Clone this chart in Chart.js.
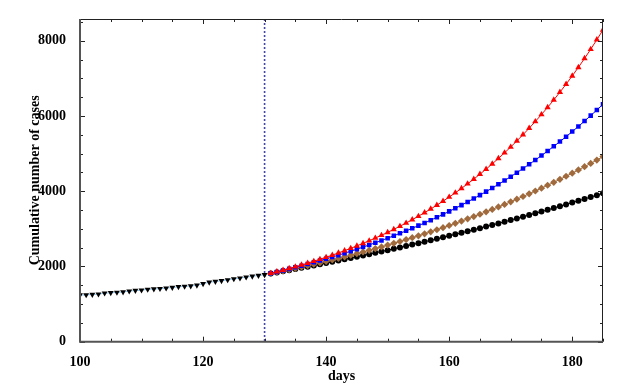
<!DOCTYPE html>
<html><head><meta charset="utf-8">
<script src="https://cdn.jsdelivr.net/npm/chart.js@4/dist/chart.umd.min.js"></script>
<style>html,body{margin:0;padding:0;background:#fff}#wrap{width:630px;height:385px;position:relative}</style>
</head><body><div id="wrap"><canvas id="c" width="630" height="385"></canvas></div>
<script>
// ---- data ----
const obsDays = [100,101,102,103,104,105,106,107,108,109,110,111,112,113,114,115,116,117,118,119,120,121,122,123,124,125,126,127,128,129,130];
const observed = [1240,1245,1255,1265,1290,1300,1310,1320,1345,1360,1370,1390,1400,1410,1425,1440,1460,1470,1480,1500,1540,1580,1600,1620,1645,1670,1690,1715,1740,1760,1780];
const projDays = [131,132,133,134,135,136,137,138,139,140,141,142,143,144,145,146,147,148,149,150,151,152,153,154,155,156,157,158,159,160,161,162,163,164,165,166,167,168,169,170,171,172,173,174,175,176,177,178,179,180,181,182,183,184,185];
const projRed = [1820,1861,1903,1947,1993,2040,2089,2139,2192,2246,2302,2360,2421,2483,2548,2615,2684,2756,2830,2907,2987,3070,3155,3244,3336,3431,3529,3631,3736,3846,3959,4076,4198,4323,4454,4588,4728,4873,5022,5177,5338,5504,5677,5855,6040,6231,6429,6634,6847,7067,7295,7531,7775,8029,8291];
const projBlue = [1818,1856,1896,1936,1978,2021,2065,2110,2156,2203,2252,2302,2353,2406,2460,2516,2573,2631,2691,2753,2816,2881,2947,3015,3086,3157,3231,3307,3385,3465,3547,3631,3717,3806,3897,3990,4086,4184,4285,4388,4495,4604,4716,4831,4949,5070,5194,5321,5452,5586,5724,5866,6011,6160,6313];
const projBrown = [1813,1846,1880,1915,1950,1986,2022,2060,2098,2137,2176,2216,2257,2299,2342,2385,2430,2475,2521,2568,2616,2664,2714,2765,2816,2869,2922,2977,3032,3089,3147,3206,3266,3327,3389,3453,3518,3584,3651,3720,3790,3861,3933,4007,4083,4160,4238,4318,4399,4482,4567,4653,4741,4830,4921];
const projBlack = [1810,1840,1870,1901,1932,1963,1994,2026,2058,2091,2124,2157,2190,2224,2258,2293,2328,2363,2399,2434,2471,2507,2544,2582,2620,2658,2696,2735,2774,2814,2854,2895,2936,2977,3019,3061,3103,3146,3190,3234,3278,3323,3368,3414,3460,3506,3554,3601,3649,3698,3747,3796,3846,3896,3948];
const xTicks = [100,120,140,160,180];
const yTicks = [0,2000,4000,6000,8000];
const interventionDay = 130;
const xLabel = 'days';
const yLabel = 'Cumulative number of cases';

// ---- build ----
const pts = (xs, ys) => xs.map((d, i) => ({x: d, y: ys[i]}));
const FAMILY = "'Liberation Serif', 'DejaVu Serif', serif";
const FONT = {family: FAMILY, weight: 'bold', size: 14};

const framePlugin = {
  id: 'frame',
  beforeDatasetsDraw(chart) {
    const {ctx, chartArea: a, scales: {x}} = chart;
    const px = x.getPixelForValue(interventionDay);
    ctx.save();
    ctx.strokeStyle = '#4646a6'; ctx.lineWidth = 1.6; ctx.setLineDash([2, 2]);
    ctx.beginPath(); ctx.moveTo(px, a.top); ctx.lineTo(px, a.bottom); ctx.stroke();
    ctx.restore();
  },
  afterDatasetsDraw(chart) {
    const {ctx, chartArea: a, scales: {x, y}} = chart;
    ctx.save();
    ctx.strokeStyle = '#222'; ctx.lineWidth = 1;
    ctx.beginPath();
    for (let v = x.min; v <= x.max; v += 5) {
      const p = Math.round(x.getPixelForValue(v)) + 0.5;
      const L = (v % 20 === 0) ? 5 : 3;
      ctx.moveTo(p, a.bottom); ctx.lineTo(p, a.bottom - L);
      ctx.moveTo(p, a.top); ctx.lineTo(p, a.top + L);
    }
    for (let v = 0; v <= y.max; v += 500) {
      const p = Math.round(y.getPixelForValue(v)) + 0.5;
      const L = (v % 2000 === 0) ? 5 : 3;
      ctx.moveTo(a.left, p); ctx.lineTo(a.left + L, p);
      ctx.moveTo(a.right, p); ctx.lineTo(a.right - L, p);
    }
    ctx.stroke();
    ctx.beginPath();
    ctx.moveTo(a.left, a.top + 0.5); ctx.lineTo(a.right, a.top + 0.5);
    ctx.moveTo(a.right - 0.5, a.top); ctx.lineTo(a.right - 0.5, a.bottom);
    ctx.stroke();
    ctx.strokeStyle = '#555'; ctx.lineWidth = 2;
    ctx.beginPath();
    ctx.moveTo(a.left, a.top); ctx.lineTo(a.left, a.bottom); ctx.lineTo(a.right, a.bottom);
    ctx.stroke();
    // axis titles
    ctx.fillStyle = '#000';
    ctx.font = 'bold 14px ' + FAMILY;
    ctx.textAlign = 'center'; ctx.textBaseline = 'middle';
    ctx.fillText(xLabel, (a.left + a.right) / 2, 376);
    ctx.translate(35, (a.top + a.bottom) / 2);
    ctx.rotate(-Math.PI / 2);
    ctx.fillText(yLabel, 0, 0);
    ctx.restore();
  }
};

new Chart(document.getElementById('c'), {
  type: 'line',
  data: {
    datasets: [
      {label: 'Scenario 1', data: pts(projDays, projRed), borderColor: '#ff0000', backgroundColor: '#ff0000', borderWidth: 1,
       pointStyle: 'triangle', pointRadius: 3.6, pointBorderWidth: 0, tension: 0},
      {label: 'Scenario 2', data: pts(projDays, projBlue), borderColor: '#0000ff', backgroundColor: '#0000ff', borderWidth: 1,
       pointStyle: 'rect', pointRadius: 3.2, pointBorderWidth: 0, tension: 0},
      {label: 'Scenario 3', data: pts(projDays, projBrown), borderColor: '#a06a3c', backgroundColor: '#a06a3c', borderWidth: 1,
       pointStyle: 'rectRot', pointRadius: 3.6, pointBorderWidth: 0, tension: 0},
      {label: 'Scenario 4', data: pts(projDays, projBlack), borderColor: '#000000', backgroundColor: '#000000', borderWidth: 1,
       pointStyle: 'circle', pointRadius: 3, pointBorderWidth: 0, tension: 0},
      {label: 'Observed', data: pts(obsDays, observed), borderColor: '#8fc8ee', backgroundColor: '#000000', borderWidth: 1,
       pointStyle: 'triangle', pointRotation: 180, pointRadius: 3.4, pointBorderWidth: 0, tension: 0}
    ]
  },
  options: {
    responsive: false,
    devicePixelRatio: 1,
    animation: false,
    layout: {padding: {top: 19, right: 27, left: 0, bottom: 0}},
    plugins: {legend: {display: false}, tooltip: {enabled: false}},
    scales: {
      x: {
        type: 'linear', position: 'bottom', min: 100, max: 185,
        grid: {display: false}, border: {display: false},
        afterBuildTicks: s => { s.ticks = xTicks.map(v => ({value: v})); },
        afterFit: s => { s.height = 43.3; },
        ticks: {color: '#000', font: FONT, padding: 4, maxRotation: 0, callback: v => String(v)}
      },
      y: {
        type: 'linear', position: 'left', min: 0, max: 8580,
        grid: {display: false}, border: {display: false},
        afterBuildTicks: s => { s.ticks = yTicks.map(v => ({value: v})); },
        afterFit: s => { s.width = 80; },
        ticks: {color: '#000', font: FONT, padding: 6, callback: v => String(v)}
      }
    }
  },
  plugins: [framePlugin]
});
</script></body></html>
